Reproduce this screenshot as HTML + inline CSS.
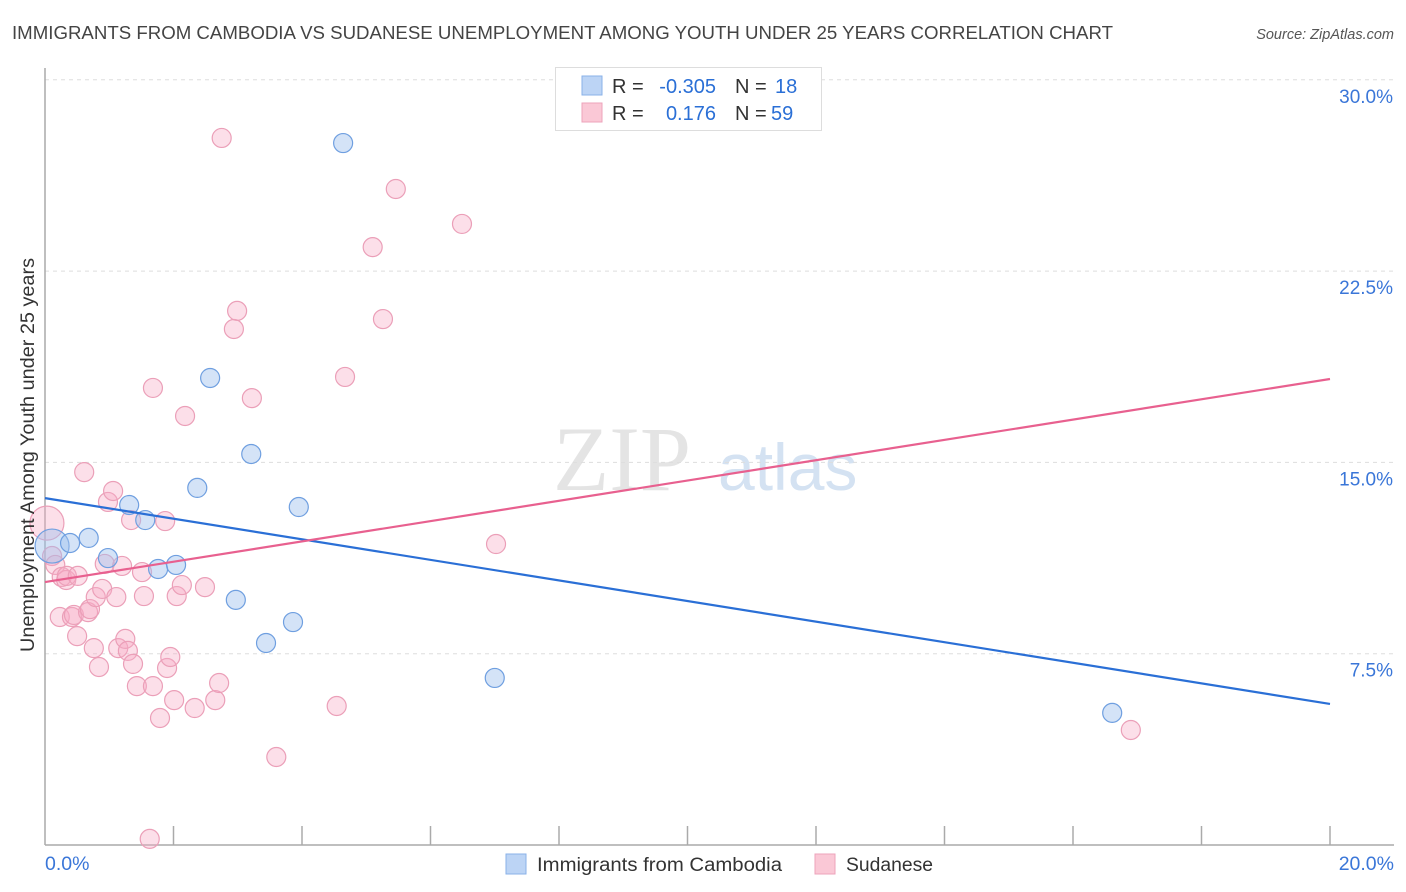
<!DOCTYPE html>
<html><head><meta charset="utf-8"><style>
body{margin:0;background:#fff;font-family:"Liberation Sans",sans-serif}
svg{display:block}
</style></head><body>
<svg id="chart" width="1406" height="892" xmlns="http://www.w3.org/2000/svg" font-family="Liberation Sans, sans-serif">
<text x="12" y="39" font-size="18" fill="#444" textLength="1101" lengthAdjust="spacingAndGlyphs">IMMIGRANTS FROM CAMBODIA VS SUDANESE UNEMPLOYMENT AMONG YOUTH UNDER 25 YEARS CORRELATION CHART</text>
<text x="1394" y="39" font-size="14.5" fill="#555" font-style="italic" text-anchor="end">Source: ZipAtlas.com</text>
<g><text x="553" y="490" font-size="92" fill="#e4e4e4" font-family="Liberation Serif, serif">ZIP</text><text x="718" y="490" font-size="66" fill="#d4e2f2">atlas</text></g>
<g id="grid"></g><g id="axes"></g><g id="marks"></g>
<text transform="translate(34,455) rotate(-90)" font-size="19" fill="#333" text-anchor="middle" textLength="394" lengthAdjust="spacingAndGlyphs">Unemployment Among Youth under 25 years</text>
<g>
<rect x="555.5" y="67.5" width="266" height="63" fill="#fff" stroke="#ddd"/>
<rect x="582" y="76" width="20" height="19" fill="#bcd4f5" stroke="#8ab2e8"/>
<rect x="582" y="103" width="20" height="19" fill="#fac8d6" stroke="#eda3bb"/>
<text x="612" y="93" font-size="20" fill="#333">R =</text><text x="716" y="93" font-size="20" fill="#2a6fd6" text-anchor="end">-0.305</text>
<text x="735" y="93" font-size="20" fill="#333">N =</text><text x="775" y="93" font-size="20" fill="#2a6fd6">18</text>
<text x="612" y="120" font-size="20" fill="#333">R =</text><text x="716" y="120" font-size="20" fill="#2a6fd6" text-anchor="end">0.176</text>
<text x="735" y="120" font-size="20" fill="#333">N =</text><text x="771" y="120" font-size="20" fill="#2a6fd6">59</text>
</g>
<g>
<rect x="506" y="854" width="20" height="20" fill="#bcd4f5" stroke="#8ab2e8"/>
<text x="537" y="871" font-size="19" fill="#333" textLength="245" lengthAdjust="spacingAndGlyphs">Immigrants from Cambodia</text>
<rect x="815" y="854" width="20" height="20" fill="#fac8d6" stroke="#eda3bb"/>
<text x="846" y="871" font-size="19" fill="#333" textLength="87" lengthAdjust="spacingAndGlyphs">Sudanese</text>
</g>
</svg>
<script>
const yTicks=[7.5,15,22.5,30];
const yTickLabels=["7.5%","15.0%","22.5%","30.0%"];
const xTickLabels=["0.0%","20.0%"];
const blueX=[0.11,0.39,0.68,0.98,1.31,1.56,1.76,2.04,2.37,2.57,2.97,3.21,3.44,3.86,3.95,4.64,7.00,16.61];
const blueY=[11.72,11.84,12.04,11.25,13.33,12.74,10.82,10.98,14.00,18.31,9.61,15.33,7.92,8.74,13.25,27.52,6.55,5.18];
const pinkX=[0.03,0.11,0.16,0.26,0.33,0.34,0.23,0.42,0.45,0.51,0.50,0.67,0.70,0.76,0.79,0.84,0.89,0.93,0.98,1.06,0.61,1.11,1.20,1.14,1.25,1.29,1.34,1.37,1.43,1.51,1.54,1.63,1.68,1.68,1.79,1.87,1.90,1.95,2.01,2.05,2.13,2.18,2.33,2.49,2.65,2.71,2.75,2.94,2.99,3.22,3.60,4.54,4.67,5.10,5.26,5.46,6.49,7.02,16.90];
const pinkY=[12.62,11.33,10.98,10.51,10.39,10.55,8.94,8.94,9.02,10.55,8.19,9.13,9.25,7.72,9.72,6.98,10.04,11.02,13.45,13.88,14.62,9.72,10.94,7.72,8.08,7.61,12.74,7.10,6.23,10.70,9.76,0.24,6.23,17.92,4.98,12.70,6.94,7.37,5.68,9.76,10.19,16.82,5.37,10.11,5.68,6.35,27.72,20.23,20.94,17.52,3.45,5.45,18.35,23.44,20.62,25.72,24.35,11.80,4.51];
const blueTrend=[13.6,5.53];
const pinkTrend=[10.31,18.27];
const NS="http://www.w3.org/2000/svg";
const X0=45,X1=1330,Y0=845,PX=191.3/7.5;
const sx=v=>X0+v/20*(X1-X0);
const sy=v=>Y0-v*PX;
function mk(tag,attrs,parent){const e=document.createElementNS(NS,tag);for(const k in attrs)e.setAttribute(k,attrs[k]);parent.appendChild(e);return e;}
const grid=document.getElementById('grid'),axes=document.getElementById('axes'),marks=document.getElementById('marks');
yTicks.forEach((t,i)=>{
  const l=mk('line',{x1:X0,x2:1394,y1:sy(t),y2:sy(t),stroke:'#ddd','stroke-dasharray':'4,4'},grid);
  
  
  const tx=mk('text',{x:1393,y:sy(t)+23,'font-size':19,fill:'#3a76d8','text-anchor':'end'},axes);
  tx.textContent=yTickLabels[i];
  
  
});
const ax=mk('line',{x1:X0,x2:1394,y1:Y0,y2:Y0,stroke:'#aaa','stroke-width':1.5},axes);


const ay=mk('line',{x1:X0,x2:X0,y1:68,y2:Y0,stroke:'#aaa','stroke-width':1.5},axes);


for(let i=1;i<=10;i++){
  const t=mk('line',{x1:sx(i*2),x2:sx(i*2),y1:Y0-19,y2:Y0,stroke:'#aaa','stroke-width':1.5},axes);
  
  
}
[[0,'start',X0],[20,'end',1394]].forEach((d,i)=>{
  const t=mk('text',{x:d[2],y:870,'font-size':19.5,fill:'#3a76d8','text-anchor':d[1]},axes);
  t.textContent=xTickLabels[i];
  
  
});
function pts(xs,ys,fill,stroke,name){
  xs.forEach((x,i)=>{
    const r=(i===0)?17:9.5;
    const c=mk('circle',{cx:sx(x),cy:sy(ys[i]),r:r,fill:fill,stroke:stroke,'stroke-width':1.2},marks);
    
    
  });
}
pts(pinkX,pinkY,'rgba(246,170,196,0.38)','#eb9fb8','sudanese-point');
pts(blueX,blueY,'rgba(160,192,238,0.45)','#6f9fe0','cambodia-point');
const bl=mk('line',{x1:sx(0),y1:sy(blueTrend[0]),x2:sx(20),y2:sy(blueTrend[1]),stroke:'#2a6fd6','stroke-width':2.2},marks);


const pl=mk('line',{x1:sx(0),y1:sy(pinkTrend[0]),x2:sx(20),y2:sy(pinkTrend[1]),stroke:'#e8608f','stroke-width':2.2},marks);


</script>
</body></html>
